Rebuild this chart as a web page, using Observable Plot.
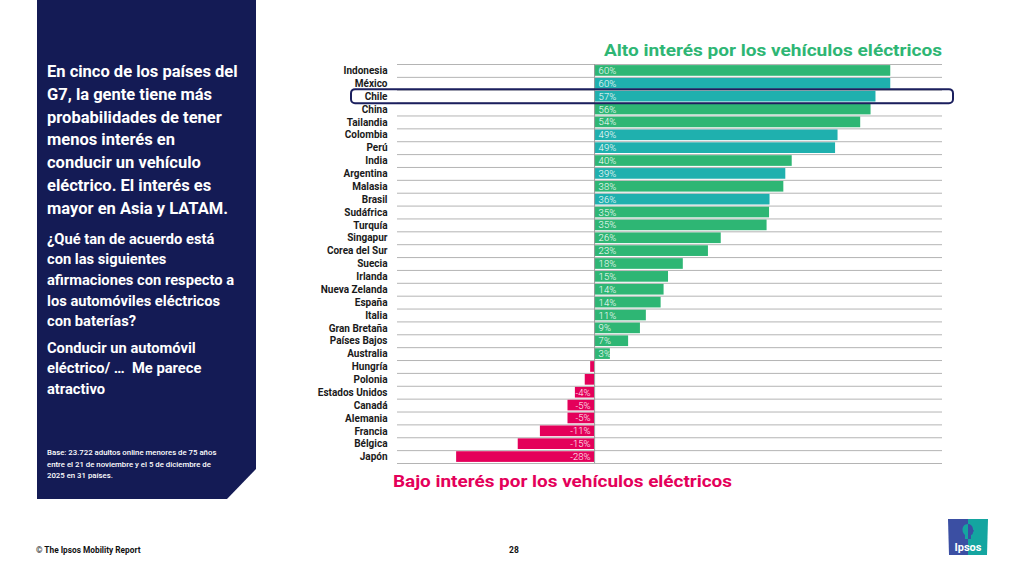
<!DOCTYPE html>
<html><head><meta charset="utf-8">
<script src="https://cdn.jsdelivr.net/npm/d3@7"></script>
<script src="https://cdn.jsdelivr.net/npm/@observablehq/plot@0.6"></script>
<style>
body{margin:0;background:#fff;font-family:Roboto,sans-serif;}
#page{position:relative;width:1024px;height:576px;overflow:hidden;background:#fff}
#panel{position:absolute;left:37px;top:0;width:219px;height:499px;background:#141b55;clip-path:polygon(0 0,100% 0,100% 469px,190px 100%,0 100%)}
.t{position:absolute;color:#fff;white-space:nowrap;transform-origin:0 0;font-weight:700}
#chart{position:absolute;left:300px;top:50px}
#titles{position:absolute;left:0;top:0}
.foot{position:absolute;color:#111;font-weight:700;white-space:nowrap}
</style></head>
<body><div id="page">
<div id="panel"></div>
<div class="t" style="left:47px;top:61px;font-size:16.5px;line-height:22.8px;transform:scaleX(1.0)">En cinco de los países del<br>G7, la gente tiene más<br>probabilidades de tener<br>menos interés en<br>conducir un vehículo<br>eléctrico. El interés es<br>mayor en Asia y LATAM.</div>
<div class="t" style="left:47px;top:228.5px;font-size:15px;line-height:20.7px;transform:scaleX(0.98)">¿Qué tan de acuerdo está<br>con las siguientes<br>afirmaciones con respecto a<br>los automóviles eléctricos<br>con baterías?</div>
<div class="t" style="left:47px;top:338px;font-size:15px;line-height:20.3px;transform:scaleX(0.98)">Conducir un automóvil<br>eléctrico/ …&nbsp; Me parece<br>atractivo</div>
<div class="t" style="left:47px;top:447px;font-size:7.8px;line-height:11.7px;font-weight:500">Base: 23.722 adultos online menores de 75 años<br>entre el 21 de noviembre y el 5 de diciembre de<br>2025 en 31 países.</div>
<div id="chart"></div>
<svg id="titles" width="1024" height="576" style="pointer-events:none">
<text x="604" y="55.7" font-family="Roboto" font-weight="700" font-size="17" fill="#2eb674" textLength="338" lengthAdjust="spacingAndGlyphs">Alto interés por los vehículos eléctricos</text>
<text x="393" y="486.7" font-family="Roboto" font-weight="700" font-size="17" fill="#e4005a" textLength="339" lengthAdjust="spacingAndGlyphs">Bajo interés por los vehículos eléctricos</text>
</svg>
<div class="foot" style="left:36px;top:545px;font-size:8.3px;line-height:11px">© The Ipsos Mobility Report</div>
<div class="foot" style="left:509px;top:545px;font-size:8.5px;line-height:11px">28</div>
<svg style="position:absolute;left:947px;top:518px" width="42" height="38" viewBox="0 0 42 38">
<path d="M1 1 H21 V37 H2 Z" fill="#3b4fa3"/>
<path d="M21 1 H41 L40 37 H21 Z" fill="#14a5a0"/>
<path d="M21 6 C17 6 15.5 9 15.5 12 C15.5 14.5 17 16 18 17 L18 21 L21 21 Z" fill="#14a5a0"/>
<path d="M21 6 C24 6 26 8.5 26 11.5 L27 13 L26 14 C26 16 25 17 24 17 L24 21 L21 21 Z" fill="#3b4fa3"/>
<text x="21" y="33" font-family="Roboto" font-size="11" font-weight="700" fill="#fff" text-anchor="middle">Ipsos</text>
</svg>
</div>
<script>
const paises = ["Indonesia","México","Chile","China","Tailandia","Colombia","Perú","India","Argentina","Malasia","Brasil","Sudáfrica","Turquía","Singapur","Corea del Sur","Suecia","Irlanda","Nueva Zelanda","España","Italia","Gran Bretaña","Países Bajos","Australia","Hungría","Polonia","Estados Unidos","Canadá","Alemania","Francia","Bélgica","Japón"];
const valores = [60.1,60.1,57.1,56.1,54.0,49.4,48.9,40.1,38.8,38.4,35.6,35.5,35.0,25.7,23.1,18.0,15.0,14.1,13.5,10.5,9.3,6.9,3.2,-0.8,-1.9,-3.9,-5.4,-5.4,-11.0,-15.5,-28.0];
const etiquetas = ["60%","60%","57%","56%","54%","49%","49%","40%","39%","38%","36%","35%","35%","26%","23%","18%","15%","14%","14%","11%","9%","7%","3%","","","-4%","-5%","-5%","-11%","-15%","-28%"];
const grupos = ["Otros","LATAM","LATAM","Otros","Otros","LATAM","LATAM","Otros","LATAM","Otros","LATAM","Otros","Otros","Otros","Otros","Otros","Otros","Otros","Otros","Otros","Otros","Otros","Otros","Otros","Otros","Otros","Otros","Otros","Otros","Otros","Otros"];
const destacado = "Chile";

const datos = paises.map((p, i) => ({
  pais: p, i, valor: valores[i], etiqueta: etiquetas[i],
  grupo: valores[i] < 0 ? "Bajo" : grupos[i]
}));

const chart = Plot.plot({
  width: 660, height: 417,
  marginLeft: 97, marginRight: 18, marginTop: 14, marginBottom: 4,
  style: {fontFamily: "Roboto", overflow: "visible", background: "transparent"},
  x: {domain: [-40, 70.6], axis: null},
  y: {domain: [-0.5, paises.length - 0.5], reverse: true, axis: null},
  color: {domain: ["Otros", "LATAM", "Bajo"], range: ["#2eb674", "#1fb0ae", "#e4005a"]},
  marks: [
    Plot.ruleY(d3.range(paises.length + 1), {y: d => d - 0.5, stroke: "#b4b4b4", strokeWidth: 1}),
    Plot.rectX(datos, {x1: 0, x2: "valor", y1: d => d.i - 0.5, y2: d => d.i + 0.5, insetTop: 1.1, insetBottom: 1.1, fill: "grupo"}),
    Plot.ruleX([0], {stroke: "#9a9a9a", strokeWidth: 1}),
    Plot.text(datos.filter(d => d.valor > 0), {x: 0, y: "i", text: "etiqueta", textAnchor: "start", dx: 4, fill: "white", fontSize: 9.5, fontWeight: 300}),
    Plot.text(datos.filter(d => d.valor < 0 && d.etiqueta), {x: 0, y: "i", text: "etiqueta", textAnchor: "end", dx: -4, fill: "white", fontSize: 9.5, fontWeight: 300}),
    Plot.axisY(d3.range(paises.length), {tickFormat: i => paises[i], tickSize: 0, tickPadding: 10, fontSize: 10, fontWeight: 700, fill: "#1a1a1a", label: null}),
    Plot.rect(datos.filter(d => d.pais === destacado), {y1: d => d.i - 0.5, y2: d => d.i + 0.5, insetLeft: -46, insetRight: -11, insetTop: -0.6, insetBottom: -0.6, rx: 4, fill: "none", stroke: "#1b1f5e", strokeWidth: 2})
  ]
});
document.getElementById("chart").appendChild(chart);
</script>
</body></html>
